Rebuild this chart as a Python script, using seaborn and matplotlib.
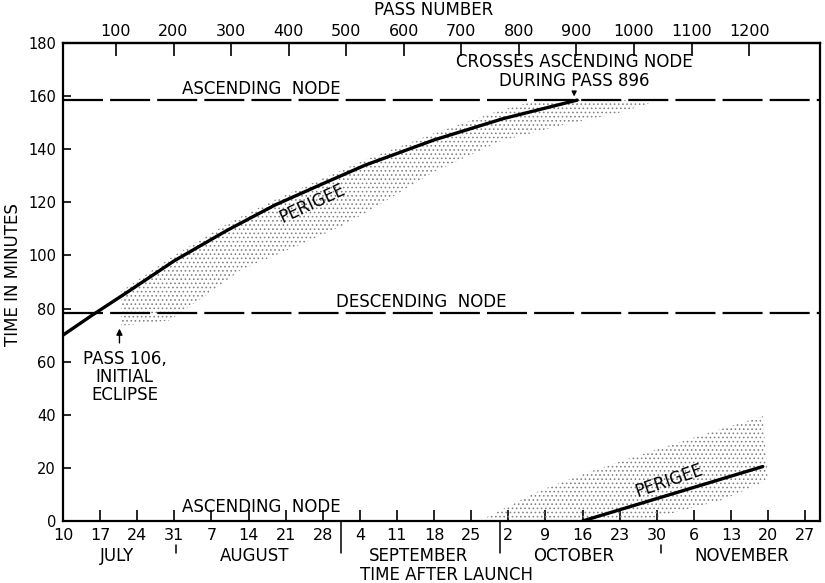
import matplotlib
matplotlib.use("Agg")
import matplotlib.pyplot as plt
import matplotlib.transforms as mtransforms
import seaborn as sns

# Time axis: days after launch (day 0 = 10 July); values in minutes
perigee_day = [0, 5.5, 12, 21, 31, 40, 49, 57, 70, 83, 97]
perigee_min = [70, 77.5, 86, 98, 109.5, 119, 127, 134, 143.5, 151.5, 158.5]

perigee2_day = [98, 132]
perigee2_min = [0, 20.5]

ascending_node_min = 158.5
descending_node_min = 78.5

# eclipse band between the nodes
band_top_day = [11, 21, 31, 40, 49, 57, 70, 83, 90, 112.6]
band_top_min = [86.5, 100, 112, 121, 129, 136, 146, 155, 158.5, 158.5]
band_bot_day = [11, 20, 27, 33.5, 43.5, 52, 57.5, 70, 82.5, 95, 104.5, 112.6]
band_bot_min = [73.5, 75.5, 85, 94.5, 103, 110.5, 116.5, 131.5, 143, 149.5, 153.5, 158.5]

# eclipse band after it passes the ascending node
band2_top_day = [78.5, 90, 100, 109, 121.5, 132]
band2_top_min = [0, 11.5, 19, 25, 33, 39.5]
band2_bot_day = [78.5, 109, 115, 124.5, 133]
band2_bot_min = [0, 0, 3, 8, 15.5]

day_ticks = list(range(0, 141, 7))
day_labels = ["10", "17", "24", "31", "7", "14", "21", "28", "4", "11", "18",
              "25", "2", "9", "16", "23", "30", "6", "13", "20", "27"]
months = ["JULY", "AUGUST", "SEPTEMBER", "OCTOBER", "NOVEMBER"]
month_centers = [10.2, 36.2, 67, 96.4, 128]
month_breaks = [21.3, 52.5, 82.5, 112.8]
month_break_long = [False, True, True, False]

pass_ticks = list(range(100, 1201, 100))
passes_per_day = 9.21
pass_offset_days = 0.86
first_eclipse_pass = 106
node_cross_pass = 896


def day_to_pass(d):
    return passes_per_day * (d + pass_offset_days)


def pass_to_day(p):
    return p / passes_per_day - pass_offset_days


sns.set_theme(style="ticks")
plt.rcParams["font.family"] = ["DejaVu Sans"]
plt.rcParams["text.color"] = "black"
plt.rcParams["axes.labelcolor"] = "black"
plt.rcParams["hatch.linewidth"] = 0.65

TXT = 12
TICK = 11.5

fig = plt.figure(figsize=(8.25, 5.83), dpi=100)
ax = fig.add_axes([63 / 825, 1 - 521 / 583, 757 / 825, 478 / 583])
ax.set_xlim(0, 142.8)
ax.set_ylim(0, 180)

# stippled eclipse regions
for top_d, top_m, bot_d, bot_m in [
    (band_top_day, band_top_min, band_bot_day, band_bot_min),
    (band2_top_day, band2_top_min, band2_bot_day, band2_bot_min),
]:
    xs = list(top_d) + list(bot_d)[::-1]
    ys = list(top_m) + list(bot_m)[::-1]
    ax.fill(xs, ys, facecolor="none", edgecolor="0.5", hatch="....", lw=0, zorder=1)

# node lines
for level in (ascending_node_min, descending_node_min):
    ax.axhline(level, color="black", lw=1.6, dashes=(18, 3.2), zorder=2)

# perigee lines
sns.lineplot(x=perigee_day, y=perigee_min, ax=ax, color="black", lw=2.4,
             estimator=None, sort=False, zorder=3)
sns.lineplot(x=perigee2_day, y=perigee2_min, ax=ax, color="black", lw=2.4,
             estimator=None, sort=False, zorder=3)

# axes styling
for s in ax.spines.values():
    s.set_linewidth(1.6)
    s.set_color("black")
ax.set_xticks(day_ticks)
ax.set_xticklabels(day_labels)
ax.set_yticks(range(0, 181, 20))
ax.tick_params(axis="x", direction="in", length=8, width=1.2, pad=5,
               labelsize=TICK, colors="black")
ax.tick_params(axis="y", direction="in", length=6, width=1.2, pad=5,
               labelsize=10.5, colors="black")
ax.set_ylabel("TIME IN MINUTES", fontsize=TXT, color="black")
ax.yaxis.set_label_coords(-0.054, 0.515)
ax.set_xlabel("")

sec = ax.secondary_xaxis("top", functions=(day_to_pass, pass_to_day))
sec.set_xticks(pass_ticks)
sec.tick_params(direction="in", length=9, width=1.2, pad=3, labelsize=TICK,
                colors="black")
sec.spines["top"].set_linewidth(1.6)

ax.text(0.49, 1.069, "PASS NUMBER", transform=ax.transAxes, ha="center",
        va="center", fontsize=TXT)
ax.text(0.506, -0.113, "TIME AFTER LAUNCH", transform=ax.transAxes,
        ha="center", va="center", fontsize=TXT)

# month names and separators below the axis
trans = mtransforms.blended_transform_factory(ax.transData, ax.transAxes)
for name, c in zip(months, month_centers):
    ax.text(c, -0.074, name, transform=trans, ha="center", va="center",
            fontsize=TXT)
for b, long_ in zip(month_breaks, month_break_long):
    y0 = 0.0 if long_ else -0.05
    ax.plot([b, b], [y0, -0.066], transform=trans, color="black", lw=1.1,
            clip_on=False)

# labels on the chart
ax.text(37.5, 162.5, "ASCENDING  NODE", ha="center", va="center", fontsize=TXT)
ax.text(67.5, 82.5, "DESCENDING  NODE", ha="center", va="center", fontsize=TXT)
ax.text(37.5, 5.4, "ASCENDING  NODE", ha="center", va="center", fontsize=TXT)
ax.text(47.0, 119.6, "PERIGEE", ha="center", va="center", fontsize=TXT,
        rotation=25)
ax.text(114.3, 15.3, "PERIGEE", ha="center", va="center", fontsize=TXT,
        rotation=19)

d106 = pass_to_day(first_eclipse_pass)
ax.annotate("", xy=(d106, 73.5), xytext=(d106, 66),
            arrowprops=dict(arrowstyle="-|>", color="black", lw=1.0,
                            mutation_scale=9))
ax.text(d106 + 1.0, 64.5, "PASS 106,\nINITIAL\nECLIPSE", ha="center", va="top",
        fontsize=TXT, linespacing=1.0)

d896 = pass_to_day(node_cross_pass)
ax.annotate("", xy=(d896, 158.8), xytext=(d896, 162.3),
            arrowprops=dict(arrowstyle="-|>", color="black", lw=1.0,
                            mutation_scale=7))
ax.text(d896, 162.2, "CROSSES ASCENDING NODE\nDURING PASS 896", ha="center",
        va="bottom", fontsize=TXT, linespacing=1.1)

fig.savefig("out.png", dpi=100, facecolor="white")
